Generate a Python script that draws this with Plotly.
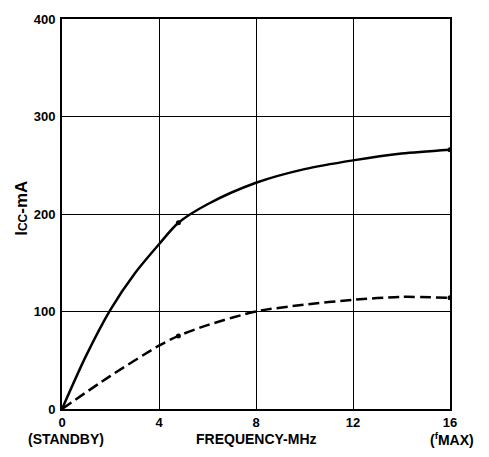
import plotly.graph_objects as go

# Data
solid_x = [0, 1, 2, 3, 4, 4.8, 6, 8, 10, 12, 14, 16]
solid_y = [0, 55, 102, 139, 169, 191, 210, 232, 246, 255, 262, 266]
dash_x = [0, 2, 4, 4.8, 6, 8, 10, 12, 14, 16]
dash_y = [0, 34, 65, 75, 86, 100, 107, 112, 115, 114]
mark_solid_x = [4.8, 16]
mark_solid_y = [191, 266]
mark_dash_x = [4.8, 16]
mark_dash_y = [75, 114]
x_ticks = [0, 4, 8, 12, 16]
y_ticks = [0, 100, 200, 300, 400]

FONT = "Liberation Sans, Arial, sans-serif"

fig = go.Figure()
fig.add_trace(go.Scatter(x=solid_x, y=solid_y, mode="lines",
                         line=dict(color="black", width=2.5, shape="spline", smoothing=0.8),
                         hoverinfo="skip"))
fig.add_trace(go.Scatter(x=dash_x, y=dash_y, mode="lines",
                         line=dict(color="black", width=2.5, shape="spline", smoothing=0.8,
                                   dash="11px,5px"),
                         hoverinfo="skip"))
fig.add_trace(go.Scatter(x=mark_solid_x + mark_dash_x, y=mark_solid_y + mark_dash_y,
                         mode="markers", marker=dict(color="black", size=5),
                         hoverinfo="skip"))

tfont = dict(family=FONT, size=13, color="black", weight="bold")
fig.update_xaxes(range=[0, 16], tickvals=x_ticks, showgrid=True, gridcolor="black",
                 gridwidth=1, showline=True, linecolor="black", linewidth=2, mirror=True,
                 zeroline=False, ticks="", ticklen=0,
                 tickfont=tfont)
fig.update_yaxes(range=[0, 400], tickvals=y_ticks, showgrid=True, gridcolor="black",
                 gridwidth=1, showline=True, linecolor="black", linewidth=2, mirror=True,
                 zeroline=False, ticks="outside", ticklen=2, tickcolor="rgba(0,0,0,0)",
                 tickfont=tfont)

annos = [
    dict(text="I<span style='font-size:12px'>CC</span>-mA", x=-0.105, y=0.514,
         xref="paper", yref="paper", textangle=-90, showarrow=False, size=17),
    dict(text="(STANDBY)", x=0.01, y=-0.077, xref="paper", yref="paper", showarrow=False, size=14),
    dict(text="FREQUENCY-MHz", x=0.5, y=-0.077, xref="paper", yref="paper", showarrow=False, size=14),
    dict(text="(<sup>f</sup>MAX)", x=1.005, y=-0.077, xref="paper",
         yref="paper", showarrow=False, size=14),
]
for a in annos:
    s = a.pop("size")
    a["font"] = dict(family=FONT, size=s, color="black", weight="bold")
    a["xanchor"] = "center"
    a["yanchor"] = "middle"
fig.update_layout(annotations=annos)

fig.update_layout(width=489, height=457, margin=dict(l=62, r=39, t=14, b=48),
                  plot_bgcolor="white", paper_bgcolor="white", showlegend=False)

fig.write_html("out.html", config={"displayModeBar": False})

with open("out.html", encoding="utf-8") as f:
    html = f.read()
html = html.replace("<head>", "<head><style>html,body{margin:0;padding:0;overflow:hidden}</style>", 1)
with open("out.html", "w", encoding="utf-8") as f:
    f.write(html)
